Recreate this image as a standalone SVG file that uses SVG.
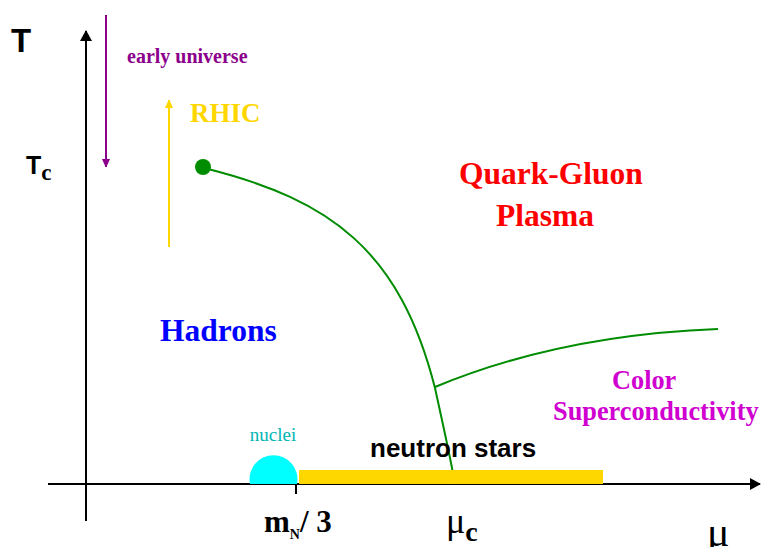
<svg xmlns="http://www.w3.org/2000/svg" width="761" height="547" viewBox="0 0 761 547">
<style>
.sans{font-family:"Liberation Sans",Arial,sans-serif;font-weight:bold}
.serif{font-family:"Liberation Serif","Times New Roman",serif;font-weight:bold}
.ax{stroke:#000;stroke-width:2;fill:none}
.g{stroke:#008c00;stroke-width:2;fill:none}
</style>
<defs>
<marker id="ak" markerWidth="12" markerHeight="12" refX="10" refY="6" orient="auto" markerUnits="userSpaceOnUse"><path d="M0,0 L11,6 L0,12 Z" fill="#000"/></marker>
<marker id="ap" markerWidth="8" markerHeight="8" refX="8" refY="4" orient="auto" markerUnits="userSpaceOnUse"><path d="M0,0 L9,4 L0,8 Z" fill="#8b008b"/></marker>
<marker id="ay" markerWidth="8" markerHeight="8" refX="8" refY="4" orient="auto" markerUnits="userSpaceOnUse"><path d="M0,0 L9,4 L0,8 Z" fill="#ffd700"/></marker>
</defs>
<rect width="761" height="547" fill="#fff"/>
<g id="connectors">
<line class="ax" x1="86" y1="521" x2="86" y2="31" marker-end="url(#ak)"/>
<line class="ax" x1="48" y1="484" x2="760" y2="484" marker-end="url(#ak)"/>
<line x1="296" y1="475" x2="296" y2="494" stroke="#000" stroke-width="2"/>
<line x1="106" y1="15" x2="106" y2="167" stroke="#8b008b" stroke-width="2" marker-end="url(#ap)"/>
<line x1="169" y1="247" x2="169" y2="100" stroke="#ffd700" stroke-width="2" marker-end="url(#ay)"/>
<path class="g" d="M208,169 C330,200 400,250 435,388 C443,425 450,455 455,484"/>
<path class="g" d="M435,387 Q560,335 718,329"/>
</g>
<g id="nuclei">
<path d="M250,484 A24,24 0 1 1 297,484 Z" fill="#00ffff"/>
<text x="273" y="441" text-anchor="middle" font-family="Liberation Serif,serif" font-size="19" fill="#00b5b5">nuclei</text>
</g>
<g id="neutron-stars">
<rect x="299" y="470" width="304" height="14" fill="#ffd700"/>
<text class="sans" x="370" y="457" font-size="26" fill="#000">neutron stars</text>
</g>
<g id="critical-point"><circle cx="203" cy="167" r="8" fill="#008c00"/></g>
<g id="labels">
<text class="sans" x="11" y="52" font-size="33" fill="#000">T</text>
<text class="sans" x="26" y="174" font-size="25" fill="#000">T<tspan class="serif" font-size="23" dy="6">c</tspan></text>
<text class="serif" x="127" y="63" font-size="20" fill="#8b008b">early universe</text>
<text class="serif" x="190" y="122" font-size="27" fill="#ffd700">RHIC</text>
<text class="serif" x="459" y="184" font-size="31.5" fill="#ff0000">Quark-Gluon</text>
<text class="serif" x="496" y="226" font-size="31.5" fill="#ff0000">Plasma</text>
<text class="serif" x="160" y="341" font-size="31.5" fill="#0000ff">Hadrons</text>
<text class="serif" x="612" y="389" font-size="26.3" fill="#d000d0">Color</text>
<text class="serif" x="553" y="420" font-size="26.3" fill="#d000d0">Superconductivity</text>
<text class="serif" x="264" y="532" font-size="31" fill="#000">m<tspan font-size="14" dy="7">N</tspan><tspan dy="-7">/ 3</tspan></text>
<text x="446" y="533" font-family="Liberation Serif,serif" font-size="36" fill="#000">μ<tspan class="serif" font-size="28" dy="8">c</tspan></text>
<text x="707" y="546" font-family="Liberation Serif,serif" font-size="42" fill="#000">μ</text>
</g>
</svg>
